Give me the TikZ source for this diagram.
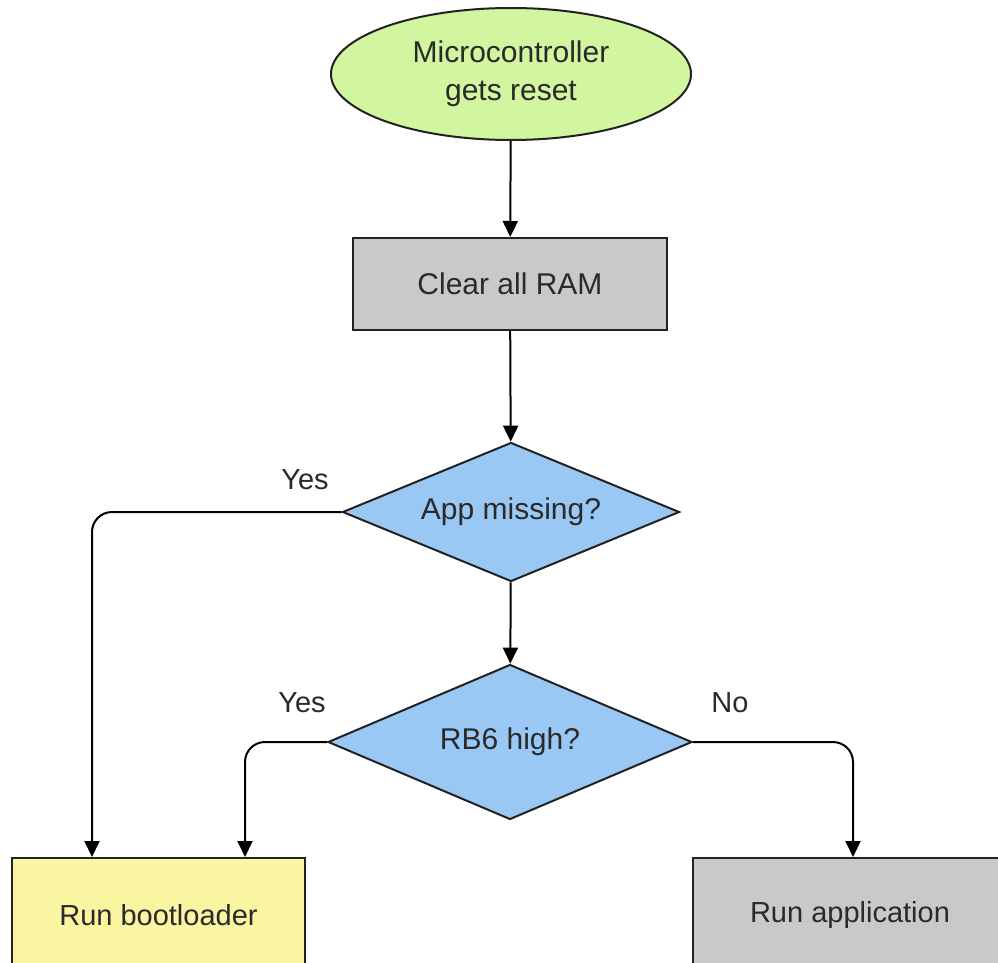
\documentclass[tikz,border=0pt]{standalone}
\usepackage{fontspec}
\setmainfont{Liberation Sans}
\usetikzlibrary{shapes.geometric,arrows.meta}
\definecolor{startgreen}{HTML}{D2F5A0}
\definecolor{boxgray}{HTML}{C9C9C9}
\definecolor{decblue}{HTML}{99C8F5}
\definecolor{bootyellow}{HTML}{FAF5A0}
\definecolor{edgec}{HTML}{222222}
\definecolor{txtc}{HTML}{2A2A2A}
\tikzset{
  base/.style={draw=edgec, line width=2pt, text=txtc, font=\fontsize{30}{38}\selectfont, inner sep=0pt, align=center},
  startnode/.style={base, ellipse, fill=startgreen, minimum width=360pt, minimum height=132pt},
  procbox/.style={base, rectangle, fill=boxgray},
  decision/.style={base, diamond, fill=decblue, shape aspect=2.4},
  lbl/.style={text=txtc, font=\fontsize{29}{34}\selectfont, inner sep=0pt},
  conn/.style={draw=black, line width=2pt, rounded corners=20pt, -{Triangle[length=16pt,width=15pt]}}
}
\begin{document}
\begin{tikzpicture}[x=1pt,y=-1pt]
\clip (0,0) rectangle (998,963);
\fill[white] (0,0) rectangle (998,963);
\node[startnode] (start) at (511,74) {Microcontroller\\gets reset};
\node[procbox, minimum width=314pt, minimum height=92pt] (ram) at (510,284) {Clear all RAM};
\node[decision, minimum width=337pt, minimum height=139pt] (app) at (511,512) {App missing?};
\node[decision, minimum width=364pt, minimum height=155pt] (rb6) at (510,742) {RB6 high?};
\node[procbox, fill=bootyellow, minimum width=293pt, minimum height=116pt] (boot) at (158.5,916) {};
\node[lbl] (boottxt) at (158.5,915) {Run bootloader};
\node[procbox, minimum width=320pt, minimum height=116pt] (run) at (853,916) {};
\node[lbl] (runtxt) at (850,915) {Run application};
\node[lbl] (yes1) at (305,480) {Yes};
\node[lbl] (yes2) at (302,703) {Yes};
\node[lbl] (no1) at (730,703) {No};
\draw[conn] (start) -- (ram);
\draw[conn] (ram) -- (app);
\draw[conn] (app) -- (rb6);
\draw[conn] (app.west) -| ([xshift=-66.5pt]boot.north);
\draw[conn] (rb6.west) -| ([xshift=86.5pt]boot.north);
\draw[conn] (rb6.east) -| (run.north);
\end{tikzpicture}
\end{document}
